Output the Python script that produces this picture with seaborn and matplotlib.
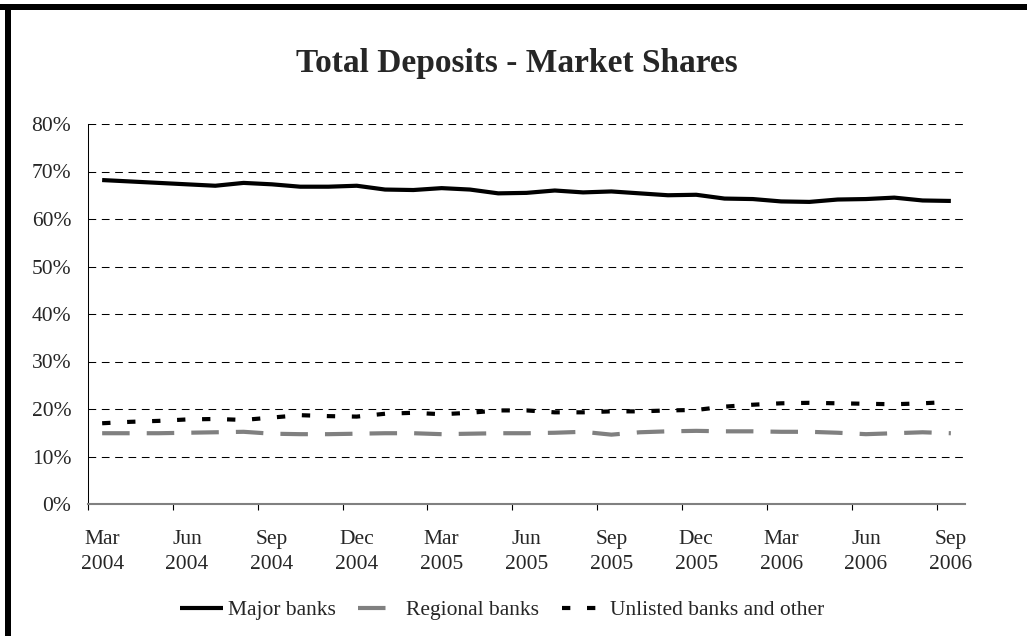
import matplotlib
matplotlib.use("Agg")
import matplotlib.pyplot as plt
import seaborn as sns
import numpy as np
import pandas as pd
from matplotlib.patches import Rectangle

# ---- data (percent market share, monthly Mar 2004 - Sep 2006) ----
major = [68.2, 67.9, 67.6, 67.3, 67.0, 67.6, 67.3, 66.8, 66.8, 67.0,
         66.2, 66.1, 66.5, 66.2, 65.4, 65.5, 66.0, 65.6, 65.8, 65.4,
         65.0, 65.1, 64.3, 64.2, 63.7, 63.6, 64.1, 64.2, 64.5, 63.9, 63.8]
regional = [14.9, 14.9, 14.9, 15.0, 15.1, 15.2, 14.8, 14.7, 14.7, 14.8,
            14.9, 14.9, 14.7, 14.8, 14.9, 14.9, 15.0, 15.2, 14.6, 15.1,
            15.3, 15.4, 15.3, 15.3, 15.2, 15.2, 15.0, 14.7, 14.9, 15.1, 14.9]
unlisted = [17.0, 17.3, 17.5, 17.8, 17.9, 17.7, 18.2, 18.7, 18.5, 18.4,
            19.0, 19.2, 18.9, 19.2, 19.7, 19.7, 19.3, 19.3, 19.5, 19.5,
            19.7, 19.8, 20.5, 20.9, 21.2, 21.3, 21.2, 21.1, 21.0, 21.2, 21.5]
tick_labels = ["Mar\n2004", "Jun\n2004", "Sep\n2004", "Dec\n2004",
               "Mar\n2005", "Jun\n2005", "Sep\n2005", "Dec\n2005",
               "Mar\n2006", "Jun\n2006", "Sep\n2006"]
series_names = ["Major banks", "Regional banks", "Unlisted banks and other"]
y_ticks = [0, 10, 20, 30, 40, 50, 60, 70, 80]

sns.set_style("white")
plt.rcParams['font.family'] = ['Liberation Serif', 'DejaVu Serif']

W, H = 1027, 636
fig = plt.figure(figsize=(W / 100, H / 100), dpi=100)
ax = fig.add_axes([88 / W, 1 - 504 / H, (965 - 88) / W, (504 - 124) / H])

x = np.arange(len(major))
lw = 3.0
sns.lineplot(x=x, y=major, ax=ax, color='black', lw=lw, label=series_names[0],
             solid_capstyle='butt', solid_joinstyle='round')
sns.lineplot(x=x, y=regional, ax=ax, color='#808080', lw=lw, label=series_names[1],
             linestyle=(0, (6.6, 4.1)), dash_capstyle='butt')
sns.lineplot(x=x, y=unlisted, ax=ax, color='black', lw=lw, label=series_names[2],
             linestyle=(0, (2.0, 4.0)), dash_capstyle='butt')

ax.set_xlim(-0.5, len(major) - 0.5)
ax.set_ylim(0, 80)

# x ticks: marks at category boundaries, labels at category centres
ax.set_xticks(np.arange(-0.5, len(major) - 1, 3))
ax.set_xticklabels([])
ax.set_xticks(np.arange(0, len(major), 3), minor=True)
ax.set_xticklabels(tick_labels, minor=True, fontsize=15.5, linespacing=1.42)
ax.tick_params(axis='x', which='major', length=4.5, width=0.8, color='black',
               direction='out', bottom=True)
ax.tick_params(axis='x', which='minor', length=0, pad=19, bottom=True)

ax.set_yticks(y_ticks)
ax.set_yticklabels([f"{v}%" for v in y_ticks], fontsize=15.5)
ax.tick_params(axis='y', length=0, pad=12)

ax.yaxis.grid(True, color='black', lw=0.75, linestyle=(0, (7.4, 5.4)))
ax.xaxis.grid(False)
ax.set_axisbelow(True)

for s in ['top', 'right']:
    ax.spines[s].set_visible(False)
ax.spines['left'].set_color('black')
ax.spines['left'].set_linewidth(0.75)
ax.spines['bottom'].set_color('#808080')
ax.spines['bottom'].set_linewidth(1.5)
ax.set_xlabel("")
ax.set_ylabel("")

handles, labels = ax.get_legend_handles_labels()
ax.get_legend().remove()
fig.legend(handles, labels, loc='center', bbox_to_anchor=(502 / W, 1 - 610 / H),
           ncol=3, frameon=False, handlelength=2.0, handletextpad=0.22,
           columnspacing=1.05, fontsize=15.5)

fig.text(517 / W, 1 - 72 / H, "Total Deposits - Market Shares", ha='center',
         va='baseline', fontsize=24, fontweight='bold')

# frame (thick black border on top and left)
fig.patches.append(Rectangle((0, 1 - 10 / H), 1, 6 / H, transform=fig.transFigure,
                             facecolor='black', edgecolor='none'))
fig.patches.append(Rectangle((5 / W, 0), 6 / W, 1 - 4 / H, transform=fig.transFigure,
                             facecolor='black', edgecolor='none'))

fig.savefig("out.png", dpi=100)
